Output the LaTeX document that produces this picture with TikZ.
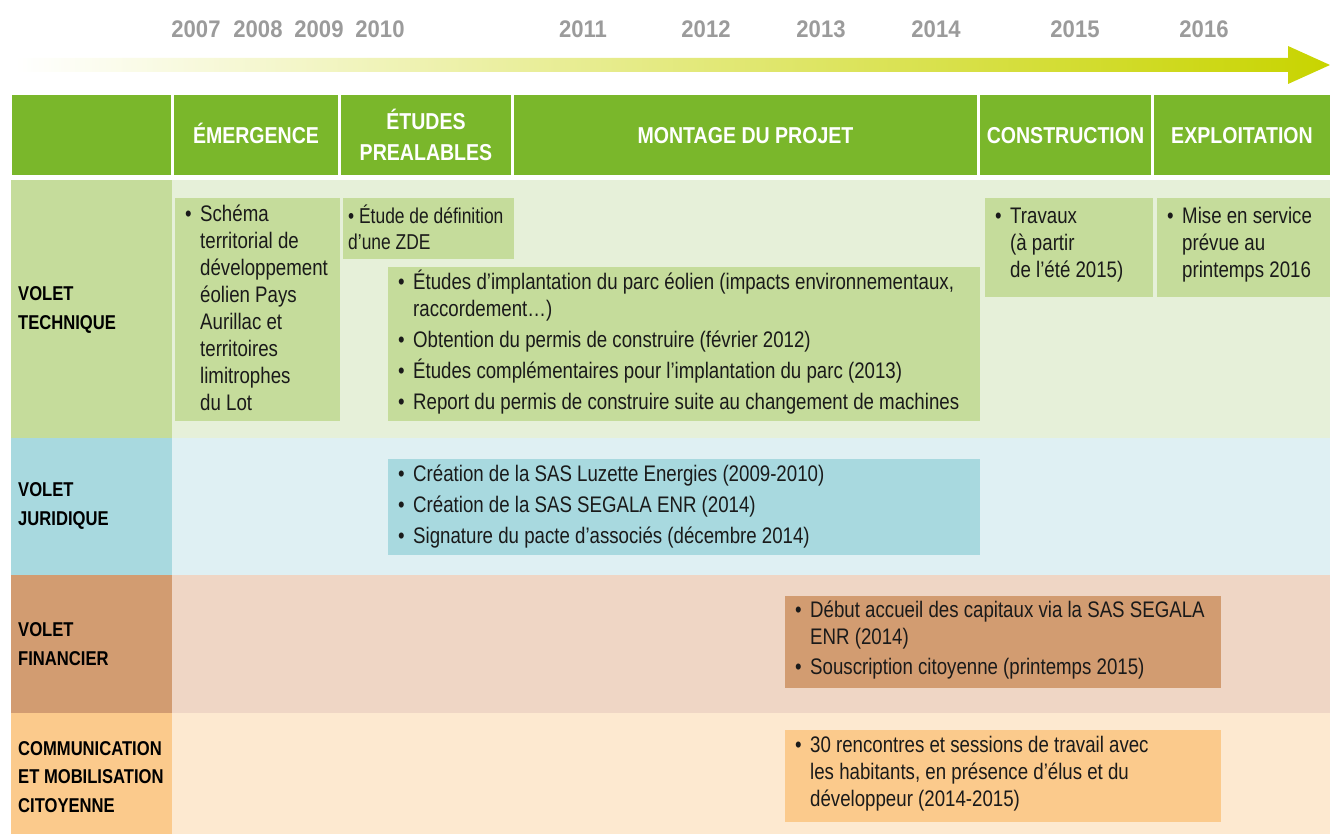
\documentclass[tikz,border=0pt]{standalone}
\usepackage{fontspec}
\setmainfont{Liberation Sans}
\newfontfamily\bodyfont{Liberation Sans}[FakeStretch=0.83]
\newfontfamily\narrowfont{Liberation Sans}[FakeStretch=0.81]
\newfontfamily\headfont{Liberation Sans}[FakeStretch=0.85]
\newfontfamily\yearfont{Liberation Sans}[FakeStretch=0.92]
\newfontfamily\labfont{Liberation Sans}[FakeStretch=0.83]
\definecolor{hdr}{RGB}{122,183,43}
\definecolor{tecL}{RGB}{197,220,155}
\definecolor{tecB}{RGB}{230,240,217}
\definecolor{jurL}{RGB}{168,217,223}
\definecolor{jurB}{RGB}{223,240,243}
\definecolor{finL}{RGB}{210,156,113}
\definecolor{finB}{RGB}{239,214,197}
\definecolor{comL}{RGB}{251,202,140}
\definecolor{comB}{RGB}{253,233,208}
\definecolor{yr}{RGB}{155,155,155}
\definecolor{arr}{RGB}{200,212,0}
\definecolor{txt}{RGB}{26,26,26}
\newcommand{\bul}{\makebox[15pt][l]{•}}
\newcommand{\ind}{\hspace*{15pt}}
\tikzset{
  yearlbl/.style={text=yr,font=\yearfont\bfseries\fontsize{24}{28}\selectfont,inner sep=0},
  hdrcell/.style={fill=hdr,text=white,inner sep=0,align=center,font=\headfont\bfseries\fontsize{23}{31}\selectfont},
  hdrone/.style={hdrcell,text height=16.5pt,text depth=0pt},
  labcell/.style={inner sep=0},
  labtext/.style={anchor=west,align=left,text=black,inner sep=0,font=\labfont\bfseries\fontsize{20}{28.5}\selectfont},
  bgcell/.style={inner sep=0},
  boxbg/.style={anchor=north west,inner sep=0},
  boxtxt/.style={anchor=west,inner sep=0,align=left,text=txt,font=\bodyfont\fontsize{22.5}{27}\selectfont}
}
\begin{document}
\begin{tikzpicture}[x=1pt,y=-1pt]
\useasboundingbox (0,0) rectangle (1330,834);
% timeline arrow
\shade[left color=white,right color=arr] (15,58) -- (1288,58) -- (1288,46) -- (1330,65) -- (1288,84) -- (1288,72) -- (15,72) -- cycle;
% years
\node[yearlbl] (y2007) at (196,29) {2007};
\node[yearlbl] (y2008) at (258,29) {2008};
\node[yearlbl] (y2009) at (319,29) {2009};
\node[yearlbl] (y2010) at (380,29) {2010};
\node[yearlbl] (y2011) at (583,29) {2011};
\node[yearlbl] (y2012) at (706,29) {2012};
\node[yearlbl] (y2013) at (821,29) {2013};
\node[yearlbl] (y2014) at (936,29) {2014};
\node[yearlbl] (y2015) at (1075,29) {2015};
\node[yearlbl] (y2016) at (1204,29) {2016};
% header
\node[hdrcell,minimum width=159,minimum height=80] (h0) at (91.5,135) {};
\node[hdrone,minimum width=164,minimum height=80] (h1) at (256,135) {ÉMERGENCE};
\node[hdrcell,minimum width=170,minimum height=80] (h2) at (426,135) {ÉTUDES\\PREALABLES};
\node[hdrone,minimum width=463,minimum height=80] (h3) at (745.5,135) {MONTAGE DU PROJET};
\node[hdrone,minimum width=171,minimum height=80] (h4) at (1065.5,135) {CONSTRUCTION};
\node[hdrone,minimum width=176,minimum height=80] (h5) at (1242,135) {EXPLOITATION};
% row backgrounds
\node[bgcell,fill=tecB,minimum width=1158,minimum height=258] (rt) at (751,309) {};
\node[bgcell,fill=jurB,minimum width=1158,minimum height=137] (rj) at (751,506.5) {};
\node[bgcell,fill=finB,minimum width=1158,minimum height=138] (rf) at (751,644) {};
\node[bgcell,fill=comB,minimum width=1158,minimum height=121] (rc) at (751,773.5) {};
% row labels
\node[labcell,fill=tecL,minimum width=161,minimum height=258] (lt) at (91.5,309) {};
\node[labcell,fill=jurL,minimum width=161,minimum height=137] (lj) at (91.5,506.5) {};
\node[labcell,fill=finL,minimum width=161,minimum height=138] (lf) at (91.5,644) {};
\node[labcell,fill=comL,minimum width=161,minimum height=121] (lc) at (91.5,773.5) {};
\node[labtext] (tt) at (18,310) {VOLET\\TECHNIQUE};
\node[labtext] (tj) at (18,506) {VOLET\\JURIDIQUE};
\node[labtext] (tf) at (18,644) {VOLET\\FINANCIER};
\node[labtext] (tc) at (18,777) {COMMUNICATION\\ET MOBILISATION\\CITOYENNE};
% boxes
\node[boxbg,fill=tecL,minimum width=165,minimum height=223] (b1) at (175,198) {};
\node[boxtxt] (b1t) at ([xshift=10pt,yshift=2pt]b1.west)
 {\bul Schéma\\\ind territorial de\\\ind développement\\\ind éolien Pays\\\ind Aurillac et\\\ind territoires\\\ind limitrophes\\\ind du Lot};
\node[boxbg,fill=tecL,minimum width=171,minimum height=61] (b2) at (343,198) {};
\node[boxtxt,font=\narrowfont\fontsize{21.5}{26}\selectfont] (b2t) at ([xshift=5pt,yshift=1pt]b2.west)
 {• Étude de définition\\d’une ZDE};
\node[boxbg,fill=tecL,minimum width=592,minimum height=154] (b3) at (388,267) {};
\node[boxtxt] (b3t) at ([xshift=10pt,yshift=2pt]b3.west)
 {\bul Études d’implantation du parc éolien (impacts environnementaux,\\\ind raccordement…)\\[4pt]
  \bul Obtention du permis de construire (février 2012)\\[4pt]
  \bul Études complémentaires pour l’implantation du parc (2013)\\[4pt]
  \bul Report du permis de construire suite au changement de machines};
\node[boxbg,fill=tecL,minimum width=168,minimum height=99] (b4) at (985,198) {};
\node[boxtxt] (b4t) at ([xshift=10pt,yshift=3pt]b4.west)
 {\bul Travaux\\\ind (à partir\\\ind de l’été 2015)};
\node[boxbg,fill=tecL,minimum width=173,minimum height=99] (b5) at (1157,198) {};
\node[boxtxt] (b5t) at ([xshift=10pt,yshift=3pt]b5.west)
 {\bul Mise en service\\\ind prévue au\\\ind printemps 2016};
\node[boxbg,fill=jurL,minimum width=592,minimum height=96] (b6) at (388,459) {};
\node[boxtxt] (b6t) at ([xshift=10pt,yshift=1pt]b6.west)
 {\bul Création de la SAS Luzette Energies (2009-2010)\\[4pt]
  \bul Création de la SAS SEGALA ENR (2014)\\[4pt]
  \bul Signature du pacte d’associés (décembre 2014)};
\node[boxbg,fill=finL,minimum width=436,minimum height=92] (b7) at (785,596) {};
\node[boxtxt] (b7t) at ([xshift=10pt,yshift=2pt]b7.west)
 {\bul Début accueil des capitaux via la SAS SEGALA\\\ind ENR (2014)\\[3pt]
  \bul Souscription citoyenne (printemps 2015)};
\node[boxbg,fill=comL,minimum width=436,minimum height=92] (b8) at (785,730) {};
\node[boxtxt] (b8t) at ([xshift=10pt,yshift=3pt]b8.west)
 {\bul 30 rencontres et sessions de travail avec\\\ind les habitants, en présence d’élus et du\\\ind développeur (2014-2015)};
\end{tikzpicture}
\end{document}
